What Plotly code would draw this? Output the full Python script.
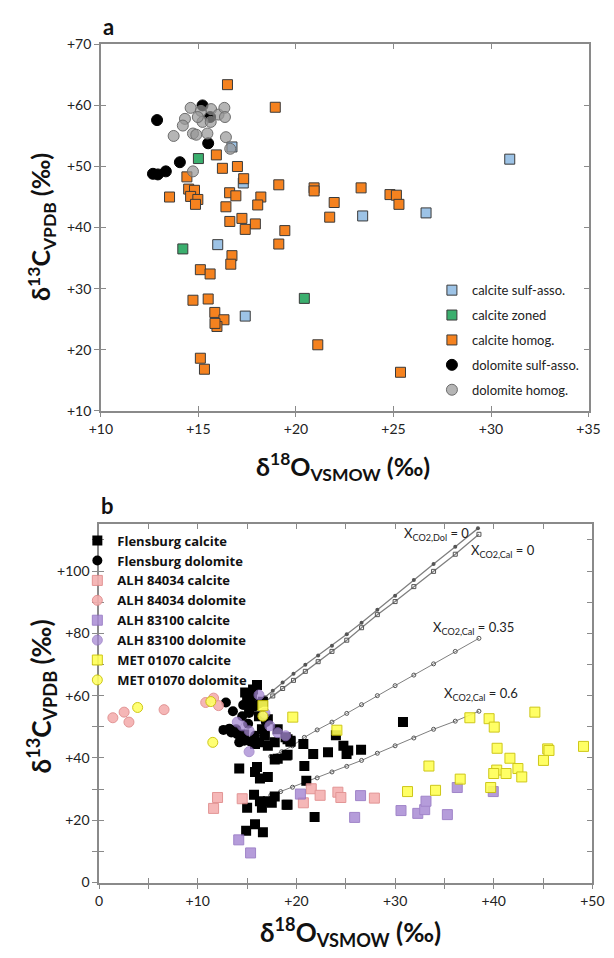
import plotly.graph_objects as go

# ---------------- Panel a data ----------------
a_cal_sulf_x = [15.99, 17.4, 17.3, 16.72, 30.96, 23.42, 26.67]
a_cal_sulf_y = [37.2, 25.5, 47.3, 53.2, 51.2, 41.9, 42.4]

a_cal_zoned_x = [14.2, 20.43, 15.0]
a_cal_zoned_y = [36.5, 28.4, 51.3]

a_cal_homog_x = [16.49, 18.94, 15.92, 16.23, 17.0, 17.32, 14.41, 19.12, 20.93, 20.93,
                 13.52, 14.5, 14.8, 14.6, 14.97, 14.85, 16.6, 16.92, 18.2, 16.41,
                 18.04, 21.96, 21.73, 16.61, 17.23, 17.92, 17.4, 19.43, 19.12, 16.72,
                 16.66, 15.1, 15.6, 14.72, 15.5, 15.84, 16.31, 15.95, 15.85, 21.12,
                 15.1, 15.31, 23.34, 24.82, 25.15, 25.28, 25.36]
a_cal_homog_y = [63.4, 59.7, 51.9, 49.7, 50.0, 48.0, 48.3, 47.0, 46.5, 46.0,
                 45.0, 46.3, 46.1, 45.1, 44.6, 43.8, 45.7, 45.2, 45.0, 43.4,
                 43.7, 44.1, 41.7, 41.0, 41.5, 40.6, 39.7, 39.5, 37.3, 35.4,
                 34.0, 33.1, 32.4, 28.1, 28.3, 26.1, 24.9, 23.8, 24.3, 20.8,
                 18.6, 16.8, 46.5, 45.4, 45.3, 43.8, 16.3]

a_dol_sulf_x = [12.88, 15.21, 15.5, 14.05, 13.33, 12.67, 12.92, 15.6]
a_dol_sulf_y = [57.6, 60.0, 53.8, 50.7, 49.2, 48.8, 48.7, 58.1]

a_dol_homog_x = [14.6, 15.13, 15.65, 16.03, 16.33, 16.36, 14.31, 14.2, 15.21, 15.63,
                 14.72, 14.89, 15.46, 13.73, 16.41, 16.63, 14.72, 14.97]
a_dol_homog_y = [59.6, 59.1, 59.4, 58.5, 59.6, 58.1, 57.8, 56.7, 57.3, 57.3,
                 55.4, 55.2, 55.4, 55.0, 54.8, 52.9, 49.2, 58.1]

a_xticks = [10, 15, 20, 25, 30, 35]
a_xtext = ["+10", "+15", "+20", "+25", "+30", "+35"]
a_yticks = [10, 20, 30, 40, 50, 60, 70]
a_ytext = ["+10", "+20", "+30", "+40", "+50", "+60", "+70"]

# ---------------- Panel b data ----------------
flens_cal_x = [16.0, 15.5, 15.0, 16.2, 17.1, 18.1, 18.9, 19.4, 16.5, 16.8, 16.2, 15.8,
               17.1, 17.8, 14.2, 16.0, 15.8, 16.3, 17.1, 18.1, 17.8, 19.1, 15.7, 15.0,
               16.5, 17.1, 17.8, 17.5, 19.1, 16.3, 14.9, 15.8, 16.6, 30.8, 24.0, 20.7,
               21.7, 23.2, 24.76, 25.25, 25.08, 26.55, 19.1, 19.4, 19.0, 20.8, 21.0,
               19.0, 21.84, 14.7, 15.2, 16.6, 14.8, 15.6]
flens_cal_y = [63.4, 60.2, 58.7, 53.4, 52.4, 49.2, 46.6, 45.5, 49.2, 47.1, 45.0, 44.5,
               43.9, 45.0, 36.6, 37.1, 35.5, 33.4, 33.9, 39.7, 39.5, 41.0, 28.2, 24.0,
               24.0, 26.1, 27.6, 25.6, 25.0, 26.1, 16.6, 18.7, 16.1, 51.5, 47.3, 44.5,
               41.3, 41.8, 43.9, 42.4, 41.3, 42.6, 46.0, 45.2, 40.8, 37.4, 32.7,
               25.0, 21.0, 47.5, 56.0, 58.0, 61.0, 62.0]

flens_dol_x = [12.85, 13.56, 12.6, 13.2, 13.9, 14.5, 14.2, 14.7, 15.3, 15.8, 15.35, 15.8,
               15.2, 14.0, 15.1, 16.2, 16.9, 13.4, 14.6]
flens_dol_y = [57.8, 55.0, 49.0, 49.4, 49.2, 53.4, 45.0, 45.5, 45.3, 47.1, 58.7, 56.6,
               54.4, 47.6, 51.0, 57.5, 51.5, 48.2, 57.0]

alh84_cal_x = [12.0, 11.6, 14.5, 21.5, 22.4, 20.7, 24.2, 24.5, 27.9]
alh84_cal_y = [27.3, 23.8, 26.9, 30.1, 28.0, 25.6, 29.0, 27.3, 27.1]

alh84_dol_x = [1.39, 2.53, 3.02, 6.58, 10.8, 11.6, 12.1]
alh84_dol_y = [52.9, 54.7, 51.5, 55.5, 57.8, 59.2, 56.8]

alh83_cal_x = [14.15, 15.35, 20.4, 26.5, 25.9, 30.6, 32.3, 33.0, 33.13, 35.3, 36.3, 39.95]
alh83_cal_y = [13.7, 9.5, 28.4, 27.9, 20.9, 23.1, 22.2, 23.4, 26.1, 21.8, 30.5, 29.2]

alh83_dol_x = [16.2, 14.5, 15.2, 16.8, 17.3, 18.1, 18.9, 15.2, 14.0]
alh83_dol_y = [60.2, 50.3, 48.7, 54.4, 50.3, 48.1, 47.1, 42.0, 51.5]

met_cal_x = [16.6, 19.63, 24.1, 37.58, 39.53, 40.05, 44.17, 49.1, 40.34, 41.64, 45.47,
             45.6, 45.04, 42.45, 40.3, 40.0, 41.25, 42.84, 33.43, 36.6, 39.69, 34.1, 31.26]
met_cal_y = [56.8, 53.1, 48.9, 52.9, 52.6, 49.9, 54.7, 43.7, 43.1, 39.9, 42.9,
             42.4, 39.2, 36.6, 36.1, 35.0, 35.0, 33.9, 37.4, 33.2, 30.5, 29.6, 29.2]

met_dol_x = [3.9, 11.32, 11.52, 16.6]
met_dol_y = [56.2, 58.1, 45.0, 53.4]

# mixing model curves (marker positions)
dol0_x = [16.8, 17.6, 18.6, 19.7, 20.9, 22.2, 23.6, 25.1, 26.6, 28.2, 30.0, 31.9, 33.9, 36.1, 38.4]
dol0_y = [59.5, 61.6, 64.2, 67.0, 69.9, 72.9, 76.0, 79.7, 83.4, 87.6, 92.1, 97.1, 102.3, 107.8, 113.7]
cal0_x = [16.8, 17.6, 18.6, 19.7, 20.9, 22.2, 23.6, 25.1, 26.6, 28.2, 30.0, 31.9, 33.9, 36.1, 38.5]
cal0_y = [58.0, 59.9, 62.3, 64.9, 67.8, 70.9, 74.2, 77.8, 81.8, 86.0, 90.2, 95.0, 99.9, 105.4, 111.8]
cal35_x = [17.4, 18.5, 19.6, 20.8, 22.1, 23.6, 25.1, 26.6, 28.2, 30.0, 31.9, 33.9, 36.1, 38.5]
cal35_y = [40.5, 42.0, 43.9, 46.6, 49.0, 51.5, 54.3, 57.1, 60.0, 63.2, 66.6, 70.2, 74.2, 78.4]
cal60_x = [17.4, 18.4, 19.6, 20.8, 22.1, 23.6, 25.1, 26.6, 28.2, 30.0, 31.9, 33.9, 36.1, 38.5]
cal60_y = [28.0, 29.2, 30.6, 32.0, 33.6, 35.5, 37.3, 39.2, 41.5, 43.9, 46.4, 49.2, 51.8, 55.0]

curve_labels = ["X<sub>CO2,Dol</sub> = 0", "X<sub>CO2,Cal</sub> = 0",
                "X<sub>CO2,Cal</sub> = 0.35", "X<sub>CO2,Cal</sub> = 0.6"]
curve_label_x = [34.2, 40.9, 37.9, 38.7]
curve_label_y = [111.8, 106.4, 81.8, 60.4]

b_xticks = [0, 10, 20, 30, 40, 50]
b_xtext = ["0", "+10", "+20", "+30", "+40", "+50"]
b_xminor = [5, 15, 25, 35, 45]
b_yticks = [0, 20, 40, 60, 80, 100]
b_ytext = ["0", "+20", "+40", "+60", "+80", "+100"]
b_yminor = [10, 30, 50, 70, 90, 110]

# ---------------- figure ----------------
W, H = 614, 958
FONT = "Lato"
AX = "#8a8a8a"
EDGE = "#3a3a3a"

fig = go.Figure()

def sq(x, y, name, color, line_color, size, xa, ya, legend, opacity=1.0, lw=1):
    fig.add_trace(go.Scatter(x=x, y=y, mode="markers", name=name, xaxis=xa, yaxis=ya,
                             legend=legend, legendgroup=name, opacity=opacity,
                             marker=dict(symbol="square", size=size, color=color,
                                         line=dict(color=line_color, width=lw))))

def circ(x, y, name, color, line_color, size, xa, ya, legend, opacity=1.0, lw=1):
    fig.add_trace(go.Scatter(x=x, y=y, mode="markers", name=name, xaxis=xa, yaxis=ya,
                             legend=legend, legendgroup=name, opacity=opacity,
                             marker=dict(symbol="circle", size=size, color=color,
                                         line=dict(color=line_color, width=lw))))

# panel a
sq(a_cal_sulf_x, a_cal_sulf_y, "calcite sulf-asso.", "#9DC3E6", EDGE, 10, "x", "y", "legend")
sq(a_cal_zoned_x, a_cal_zoned_y, "calcite zoned", "#3BAF6E", EDGE, 10, "x", "y", "legend")
sq(a_cal_homog_x, a_cal_homog_y, "calcite homog.", "#F5821F", EDGE, 10, "x", "y", "legend")
circ(a_dol_sulf_x, a_dol_sulf_y, "dolomite sulf-asso.", "#000000", "#000000", 11, "x", "y", "legend")
circ(a_dol_homog_x, a_dol_homog_y, "dolomite homog.", "rgba(150,150,150,0.7)", "#6e6e6e", 11, "x", "y", "legend")

# panel b model curves
line_col = "#7f7f7f"
for cx, cy, sym, lw in [(cal60_x, cal60_y, "circle-open", 1), (cal35_x, cal35_y, "circle-open", 1),
                        (cal0_x, cal0_y, "square-open", 1.3), (dol0_x, dol0_y, "circle", 1.3)]:
    fig.add_trace(go.Scatter(x=cx, y=cy, mode="lines+markers", xaxis="x2", yaxis="y2",
                             showlegend=False, line=dict(color=line_col, width=lw),
                             marker=dict(symbol=sym, size=4, color="#555")))

# panel b data
sq(flens_cal_x, flens_cal_y, "Flensburg calcite", "#000000", "#000000", 10, "x2", "y2", "legend2", lw=0)
circ(flens_dol_x, flens_dol_y, "Flensburg dolomite", "#000000", "#000000", 10, "x2", "y2", "legend2", lw=0)
sq(alh84_cal_x, alh84_cal_y, "ALH 84034 calcite", "#F4B0B0", "#E08A8A", 10, "x2", "y2", "legend2", opacity=0.9)
circ(alh84_dol_x, alh84_dol_y, "ALH 84034 dolomite", "#F4AFAF", "#E08A8A", 10, "x2", "y2", "legend2", opacity=0.9)
sq(alh83_cal_x, alh83_cal_y, "ALH 83100 calcite", "#A98BD4", "#9070C0", 10, "x2", "y2", "legend2", opacity=0.85)
circ(alh83_dol_x, alh83_dol_y, "ALH 83100 dolomite", "#A588D2", "#9070C0", 10, "x2", "y2", "legend2", opacity=0.75)
sq(met_cal_x, met_cal_y, "MET 01070 calcite", "#FFFF55", "#C9C200", 10, "x2", "y2", "legend2", opacity=0.9)
circ(met_dol_x, met_dol_y, "MET 01070 dolomite", "#FFFF66", "#C9C200", 10, "x2", "y2", "legend2", opacity=0.9)

# empty traces so that the tick-overlay axes are drawn
fig.add_trace(go.Scatter(x=[], y=[], xaxis="x3", yaxis="y3", showlegend=False))
fig.add_trace(go.Scatter(x=[], y=[], xaxis="x4", yaxis="y4", showlegend=False))

ax_a_x = [92.5 / W, 600 / W]
ax_a_y = [1 - 409 / H, 1 - 36 / H]
ax_b_x = [90.7 / W, 604 / W]
ax_b_y = [1 - 889.3 / H, 1 - 524 / H]

tickfont = dict(family=FONT, size=14, color="#222")

def main_axis(domain, rng, tv, tt, anchor, minor_vals=None):
    d = dict(domain=domain, range=rng, tickmode="array", tickvals=tv, ticktext=tt, anchor=anchor,
             showline=True, linecolor=AX, linewidth=1.5, mirror=True,
             ticks="outside", ticklen=5, tickcolor=AX, tickwidth=1.3,
             showgrid=False, zeroline=False, tickfont=tickfont, fixedrange=True)
    if minor_vals:
        d["minor"] = dict(tickmode="array", tickvals=minor_vals, ticks="outside", ticklen=5,
                          tickcolor=AX, tickwidth=1.3, showgrid=False)
    return d

def overlay_axis(over, rng, tv, anchor, side, minor_vals=None):
    d = dict(overlaying=over, range=rng, tickmode="array", tickvals=tv, anchor=anchor, side=side,
             showline=False, showticklabels=False, ticks="inside", ticklen=5,
             tickcolor=AX, tickwidth=1.3, mirror="ticks", showgrid=False, zeroline=False)
    if minor_vals:
        d["minor"] = dict(tickmode="array", tickvals=minor_vals, ticks="inside", ticklen=5,
                          tickcolor=AX, tickwidth=1.3, showgrid=False)
    return d

fig.update_layout(
    width=W, height=H, margin=dict(l=0, r=0, t=0, b=0),
    paper_bgcolor="white", plot_bgcolor="white",
    font=dict(family=FONT, color="#222"),
    xaxis=main_axis(ax_a_x, [10, 35], a_xticks, a_xtext, "y"),
    yaxis=main_axis(ax_a_y, [10, 70], a_yticks, a_ytext, "x"),
    xaxis2=main_axis(ax_b_x, [0, 50], b_xticks, b_xtext, "y2", b_xminor),
    yaxis2=main_axis(ax_b_y, [0, 115.2], b_yticks, b_ytext, "x2", b_yminor),
    xaxis3=overlay_axis("x", [10, 35], a_xticks, "y", "bottom"),
    yaxis3=overlay_axis("y", [10, 70], a_yticks, "x", "left"),
    xaxis4=overlay_axis("x2", [0, 50], b_xticks, "y2", "bottom", b_xminor),
    yaxis4=overlay_axis("y2", [0, 115.2], b_yticks, "x2", "left", b_yminor),
    legend=dict(x=437 / W, y=1 - 271 / H, xanchor="left", yanchor="top",
                bgcolor="rgba(0,0,0,0)", font=dict(family=FONT, size=13, color="#222"),
                tracegroupgap=5, itemsizing="trace"),
    legend2=dict(x=68 / W, y=1 - 526 / H, xanchor="left", yanchor="top",
                 bgcolor="rgba(0,0,0,0)",
                 font=dict(family="Open Sans", size=13, color="#111", weight="bold"),
                 tracegroupgap=0, itemsizing="trace"),
)

annos = [
    dict(text="<b>a</b>", x=100 / W, y=1 - 18 / H, font=dict(size=22)),
    dict(text="<b>b</b>", x=99 / W, y=1 - 505 / H, font=dict(size=22)),
    dict(text="<b>δ<sup>18</sup>O<sub>VSMOW</sub> (‰)</b>", x=344 / W, y=1 - 466 / H, font=dict(size=25)),
    dict(text="<b>δ<sup>13</sup>C<sub>VPDB</sub> (‰)</b>", x=30 / W, y=1 - 222 / H, font=dict(size=25), textangle=-90),
    dict(text="<b>δ<sup>18</sup>O<sub>VSMOW</sub> (‰)</b>", x=352 / W, y=1 - 940 / H, font=dict(size=26)),
    dict(text="<b>δ<sup>13</sup>C<sub>VPDB</sub> (‰)</b>", x=30 / W, y=1 - 700 / H, font=dict(size=26), textangle=-90),
]
for an in annos:
    an.update(xref="paper", yref="paper", showarrow=False, xanchor="center", yanchor="middle")
    an["font"].update(family=FONT, color="#111")
    fig.add_annotation(**an)

for t, cx, cy in zip(curve_labels, curve_label_x, curve_label_y):
    fig.add_annotation(text=t, x=cx, y=cy, xref="x2", yref="y2", showarrow=False,
                       font=dict(family=FONT, size=13, color="#222"))

fig.write_html("out.html")
